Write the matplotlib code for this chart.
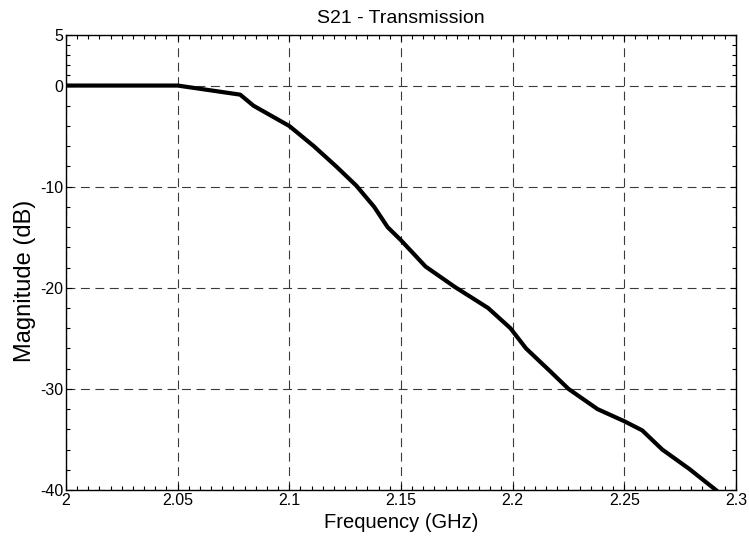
import numpy as np
import matplotlib
matplotlib.use("Agg")
import matplotlib.pyplot as plt
from matplotlib.ticker import FixedLocator, MultipleLocator

# S21 magnitude
freq_ghz = [2.000, 2.050, 2.078, 2.084, 2.100, 2.111, 2.121, 2.130, 2.138,
            2.144, 2.150, 2.161, 2.174, 2.189, 2.199, 2.206, 2.217, 2.225,
            2.238, 2.250, 2.258, 2.267, 2.279, 2.291]
s21_db = [0.0, 0.0, -0.9, -2.0, -4.0, -6.0, -8.0, -9.9, -12.0,
          -14.0, -15.3, -17.9, -19.9, -22.0, -24.0, -26.0, -28.3, -30.0,
          -32.0, -33.2, -34.1, -36.0, -37.9, -40.0]

x_ticks = [2.0, 2.05, 2.1, 2.15, 2.2, 2.25, 2.3]
x_labels = ["2", "2.05", "2.1", "2.15", "2.2", "2.25", "2.3"]
y_ticks = [-40, -30, -20, -10, 0, 5]

plt.rcParams['font.family'] = ['Liberation Sans', 'DejaVu Sans']
plt.rcParams['axes.unicode_minus'] = False

fig = plt.figure(figsize=(7.49, 5.40), dpi=100)
ax = fig.add_axes([0.0881, 0.0926, 0.8945, 0.8426])

ax.plot(freq_ghz, s21_db, color='black', linewidth=3, zorder=3)

ax.set_xlim(2.0, 2.3)
ax.set_ylim(-40, 5)
ax.set_xticks(x_ticks)
ax.set_xticklabels(x_labels)
ax.set_yticks(y_ticks)
ax.xaxis.set_minor_locator(MultipleLocator(0.005))

# MATLAB-style minor ticks: 4 between each pair of major ticks
y_minor = []
for lo, hi in zip(y_ticks[:-1], y_ticks[1:]):
    y_minor += list(np.linspace(lo, hi, 6)[1:-1])
ax.yaxis.set_minor_locator(FixedLocator(y_minor))

ax.tick_params(which='both', direction='in', top=True, right=True,
               labelsize=11.5, width=0.8, pad=2)
ax.tick_params(which='major', length=4)
ax.tick_params(which='minor', length=3)

ax.grid(True, which='major', color='#3a3a3a', linestyle=(0, (8, 5)),
        linewidth=0.8)
for s in ax.spines.values():
    s.set_linewidth(1.0)

ax.set_title('S21 - Transmission', fontsize=14, pad=8.5)
ax.set_xlabel('Frequency (GHz)', fontsize=14.5, labelpad=4)
ax.set_ylabel('Magnitude (dB)', fontsize=17)
ax.yaxis.set_label_coords(-0.045, 0.459)

fig.savefig('out.png', dpi=100)
